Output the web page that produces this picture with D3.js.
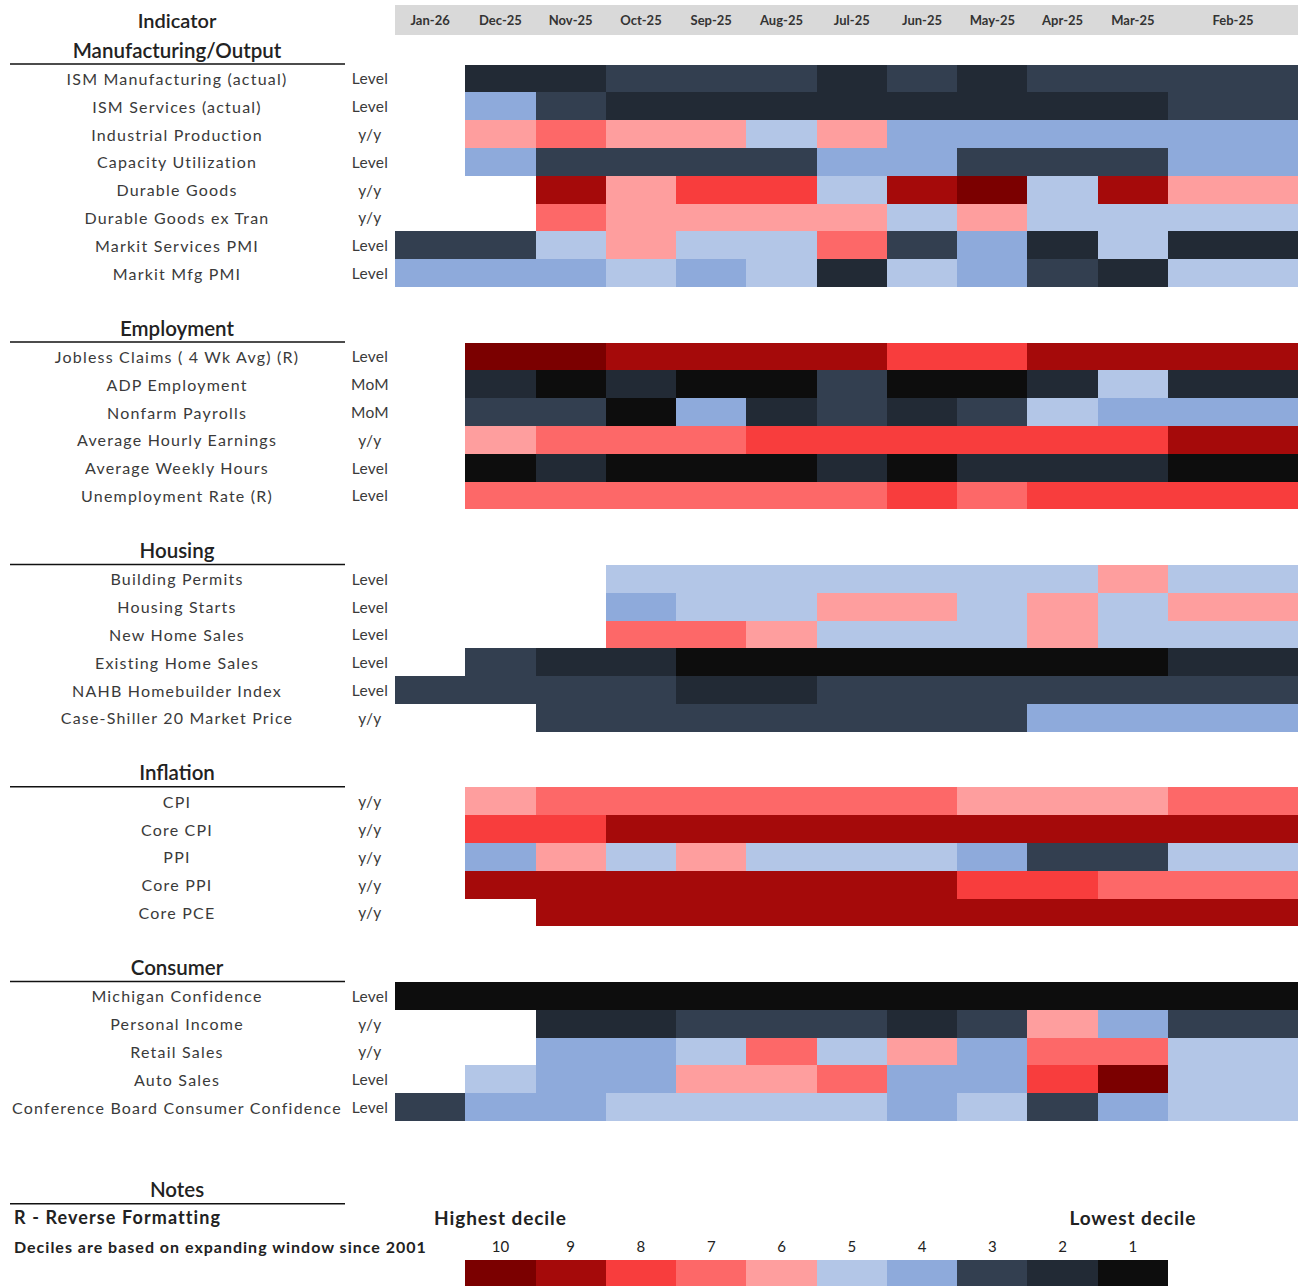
<!DOCTYPE html>
<html>
<head>
<meta charset="utf-8">
<script src="https://cdn.jsdelivr.net/npm/d3@7"></script>
<style>
  html, body { margin: 0; padding: 0; background: #fff; }
  svg { display: block; }
  text { font-family: Lato, "Open Sans", sans-serif; }
</style>
</head>
<body>
<div id="chart"></div>
<script>
// Month columns, newest first
const months = ["Jan-26", "Dec-25", "Nov-25", "Oct-25", "Sep-25", "Aug-25", "Jul-25",
                "Jun-25", "May-25", "Apr-25", "Mar-25", "Feb-25"];

// Decile palette: 10 (highest) ... 1 (lowest)
const decileLevels = [10, 9, 8, 7, 6, 5, 4, 3, 2, 1];
const decileColors = ["#7b0000", "#a50a0a", "#f83d3d", "#fd6868", "#fe9e9e",
                      "#b3c6e7", "#8eaadb", "#333f50", "#222a35", "#0d0d0d"];

const groupNames = ["Manufacturing/Output", "Employment", "Housing", "Inflation", "Consumer"];

// Manufacturing / Output
const mfgIndicators = ["ISM Manufacturing (actual)", "ISM Services (actual)", "Industrial Production",
  "Capacity Utilization", "Durable Goods", "Durable Goods ex Tran", "Markit Services PMI", "Markit Mfg PMI"];
const mfgUnits = ["Level", "Level", "y/y", "Level", "y/y", "y/y", "Level", "Level"];
const mfgDeciles = [
  [null, 2, 2, 3, 3, 3, 2, 3, 2, 3, 3, 3],
  [null, 4, 3, 2, 2, 2, 2, 2, 2, 2, 2, 3],
  [null, 6, 7, 6, 6, 5, 6, 4, 4, 4, 4, 4],
  [null, 4, 3, 3, 3, 3, 4, 4, 3, 3, 3, 4],
  [null, null, 9, 6, 8, 8, 5, 9, 10, 5, 9, 6],
  [null, null, 7, 6, 6, 6, 6, 5, 6, 5, 5, 5],
  [3, 3, 5, 6, 5, 5, 7, 3, 4, 2, 5, 2],
  [4, 4, 4, 5, 4, 5, 2, 5, 4, 3, 2, 5]
];

// Employment
const empIndicators = ["Jobless Claims ( 4 Wk Avg) (R)", "ADP Employment", "Nonfarm Payrolls",
  "Average Hourly Earnings", "Average Weekly Hours", "Unemployment Rate (R)"];
const empUnits = ["Level", "MoM", "MoM", "y/y", "Level", "Level"];
const empDeciles = [
  [null, 10, 10, 9, 9, 9, 9, 8, 8, 9, 9, 9],
  [null, 2, 1, 2, 1, 1, 3, 1, 1, 2, 5, 2],
  [null, 3, 3, 1, 4, 2, 3, 2, 3, 5, 4, 4],
  [null, 6, 7, 7, 7, 8, 8, 8, 8, 8, 8, 9],
  [null, 1, 2, 1, 1, 1, 2, 1, 2, 2, 2, 1],
  [null, 7, 7, 7, 7, 7, 7, 8, 7, 8, 8, 8]
];

// Housing
const houIndicators = ["Building Permits", "Housing Starts", "New Home Sales", "Existing Home Sales",
  "NAHB Homebuilder Index", "Case-Shiller 20 Market Price"];
const houUnits = ["Level", "Level", "Level", "Level", "Level", "y/y"];
const houDeciles = [
  [null, null, null, 5, 5, 5, 5, 5, 5, 5, 6, 5],
  [null, null, null, 4, 5, 5, 6, 6, 5, 6, 5, 6],
  [null, null, null, 7, 7, 6, 5, 5, 5, 6, 5, 5],
  [null, 3, 2, 2, 1, 1, 1, 1, 1, 1, 1, 2],
  [3, 3, 3, 3, 2, 2, 3, 3, 3, 3, 3, 3],
  [null, null, 3, 3, 3, 3, 3, 3, 3, 4, 4, 4]
];

// Inflation
const infIndicators = ["CPI", "Core CPI", "PPI", "Core PPI", "Core PCE"];
const infUnits = ["y/y", "y/y", "y/y", "y/y", "y/y"];
const infDeciles = [
  [null, 6, 7, 7, 7, 7, 7, 7, 6, 6, 6, 7],
  [null, 8, 8, 9, 9, 9, 9, 9, 9, 9, 9, 9],
  [null, 4, 6, 5, 6, 5, 5, 5, 4, 3, 3, 5],
  [null, 9, 9, 9, 9, 9, 9, 9, 8, 8, 7, 7],
  [null, null, 9, 9, 9, 9, 9, 9, 9, 9, 9, 9]
];

// Consumer
const conIndicators = ["Michigan Confidence", "Personal Income", "Retail Sales", "Auto Sales",
  "Conference Board Consumer Confidence"];
const conUnits = ["Level", "y/y", "y/y", "Level", "Level"];
const conDeciles = [
  [1, 1, 1, 1, 1, 1, 1, 1, 1, 1, 1, 1],
  [null, null, 2, 2, 3, 3, 3, 2, 3, 6, 4, 3],
  [null, null, 4, 4, 5, 7, 5, 6, 4, 7, 7, 5],
  [null, 5, 4, 4, 6, 6, 7, 4, 4, 8, 10, 5],
  [3, 4, 4, 5, 5, 5, 5, 4, 5, 3, 4, 5]
];

const legendNumbers = ["10", "9", "8", "7", "6", "5", "4", "3", "2", "1"];

// ---------------------------------------------------------------------
const W = 1300, H = 1286;
const svg = d3.select("#chart").append("svg").attr("width", W).attr("height", H);

const groups = [
  { name: groupNames[0], names: mfgIndicators, units: mfgUnits, values: mfgDeciles },
  { name: groupNames[1], names: empIndicators, units: empUnits, values: empDeciles },
  { name: groupNames[2], names: houIndicators, units: houUnits, values: houDeciles },
  { name: groupNames[3], names: infIndicators, units: infUnits, values: infDeciles },
  { name: groupNames[4], names: conIndicators, units: conUnits, values: conDeciles }
];

// Column index -> x (last column is wider)
const x = d3.scaleLinear().domain([0, months.length - 1, months.length]).range([395, 1168, 1298]);
// Sheet row slot -> y
const slot = d3.scaleLinear().domain([0, 1]).range([64.5, 92.3]);
const rowH = slot(1) - slot(0);
const color = d3.scaleOrdinal().domain(decileLevels).range(decileColors);

const labelX = 177, unitX = 370, ruleX0 = 10, ruleX1 = 345;
const textCol = "#3a3a3a";

// Header band with month labels
svg.append("rect").attr("x", x(0)).attr("y", 5).attr("width", x(months.length) - x(0)).attr("height", 30)
  .attr("fill", "#d9d9d9");
svg.append("g").selectAll("text").data(months).join("text")
  .attr("x", (d, i) => (x(i) + x(i + 1)) / 2).attr("y", 20)
  .attr("text-anchor", "middle").attr("dominant-baseline", "central")
  .attr("font-size", 13).attr("font-weight", 700).attr("fill", "#333").text(d => d);

svg.append("text").attr("x", labelX).attr("y", 20).attr("text-anchor", "middle")
  .attr("dominant-baseline", "central").attr("font-size", 20).attr("font-weight", 600)
  .attr("fill", "#222").text("Indicator");

function sectionTitle(k, label) {
  svg.append("text").attr("x", labelX).attr("y", slot(k) + rowH / 2 - 1)
    .attr("text-anchor", "middle").attr("dominant-baseline", "central")
    .attr("font-size", 20.5).attr("font-weight", 600).attr("fill", "#222").text(label);
  svg.append("line").attr("x1", ruleX0).attr("x2", ruleX1)
    .attr("y1", slot(k + 1) - 0.5).attr("y2", slot(k + 1) - 0.5)
    .attr("stroke", "#111").attr("stroke-width", 1.5);
}

let k = -1;
groups.forEach(g => {
  sectionTitle(k, g.name);
  const g0 = k + 1;
  const layer = svg.append("g");
  g.values.forEach((row, r) => {
    const yy = slot(g0 + r);
    layer.append("text").attr("x", labelX).attr("y", yy + rowH / 2)
      .attr("text-anchor", "middle").attr("dominant-baseline", "central")
      .attr("font-size", 16).attr("letter-spacing", 1.2).attr("fill", textCol).text(g.names[r]);
    layer.append("text").attr("x", unitX).attr("y", yy + rowH / 2)
      .attr("text-anchor", "middle").attr("dominant-baseline", "central")
      .attr("font-size", 15.5).attr("letter-spacing", 0.3).attr("fill", textCol).text(g.units[r]);
    layer.append("g").selectAll("rect")
      .data(row.map((v, i) => ({ v, i })).filter(d => d.v != null))
      .join("rect")
      .attr("x", d => x(d.i)).attr("y", yy)
      .attr("width", d => x(d.i + 1) - x(d.i)).attr("height", rowH)
      .attr("fill", d => color(d.v)).attr("shape-rendering", "crispEdges");
  });
  k = g0 + g.values.length + 1;
});

// Notes and decile key
const notesK = k + 1;
sectionTitle(notesK, "Notes");
svg.append("text").attr("x", 14).attr("y", slot(notesK + 1) + rowH / 2 - 1)
  .attr("dominant-baseline", "central").attr("font-size", 18).attr("font-weight", 700)
  .attr("letter-spacing", 1.1).attr("fill", "#222").text("R - Reverse Formatting");
svg.append("text").attr("x", 14).attr("y", slot(notesK + 2) + rowH / 2)
  .attr("dominant-baseline", "central").attr("font-size", 16).attr("font-weight", 700)
  .attr("letter-spacing", 1.0).attr("fill", "#222").text("Deciles are based on expanding window since 2001");

const keyCols = decileLevels.map((d, j) => j + 1);
svg.append("text").attr("x", (x(1) + x(2)) / 2).attr("y", slot(notesK + 1) + rowH / 2 - 1)
  .attr("text-anchor", "middle").attr("dominant-baseline", "central")
  .attr("font-size", 19).attr("font-weight", 700).attr("letter-spacing", 0.9)
  .attr("fill", "#222").text("Highest decile");
svg.append("text").attr("x", (x(10) + x(11)) / 2).attr("y", slot(notesK + 1) + rowH / 2 - 1)
  .attr("text-anchor", "middle").attr("dominant-baseline", "central")
  .attr("font-size", 19).attr("font-weight", 700).attr("letter-spacing", 0.9)
  .attr("fill", "#222").text("Lowest decile");

svg.append("g").selectAll("text").data(legendNumbers).join("text")
  .attr("x", (d, j) => (x(keyCols[j]) + x(keyCols[j] + 1)) / 2)
  .attr("y", slot(notesK + 2) + rowH / 2)
  .attr("text-anchor", "middle").attr("dominant-baseline", "central")
  .attr("font-size", 15).attr("fill", "#222").text(d => d);

svg.append("g").selectAll("rect").data(decileLevels).join("rect")
  .attr("x", (d, j) => x(keyCols[j])).attr("y", slot(notesK + 3))
  .attr("width", (d, j) => x(keyCols[j] + 1) - x(keyCols[j])).attr("height", rowH)
  .attr("fill", d => color(d)).attr("shape-rendering", "crispEdges");
</script>
</body>
</html>
